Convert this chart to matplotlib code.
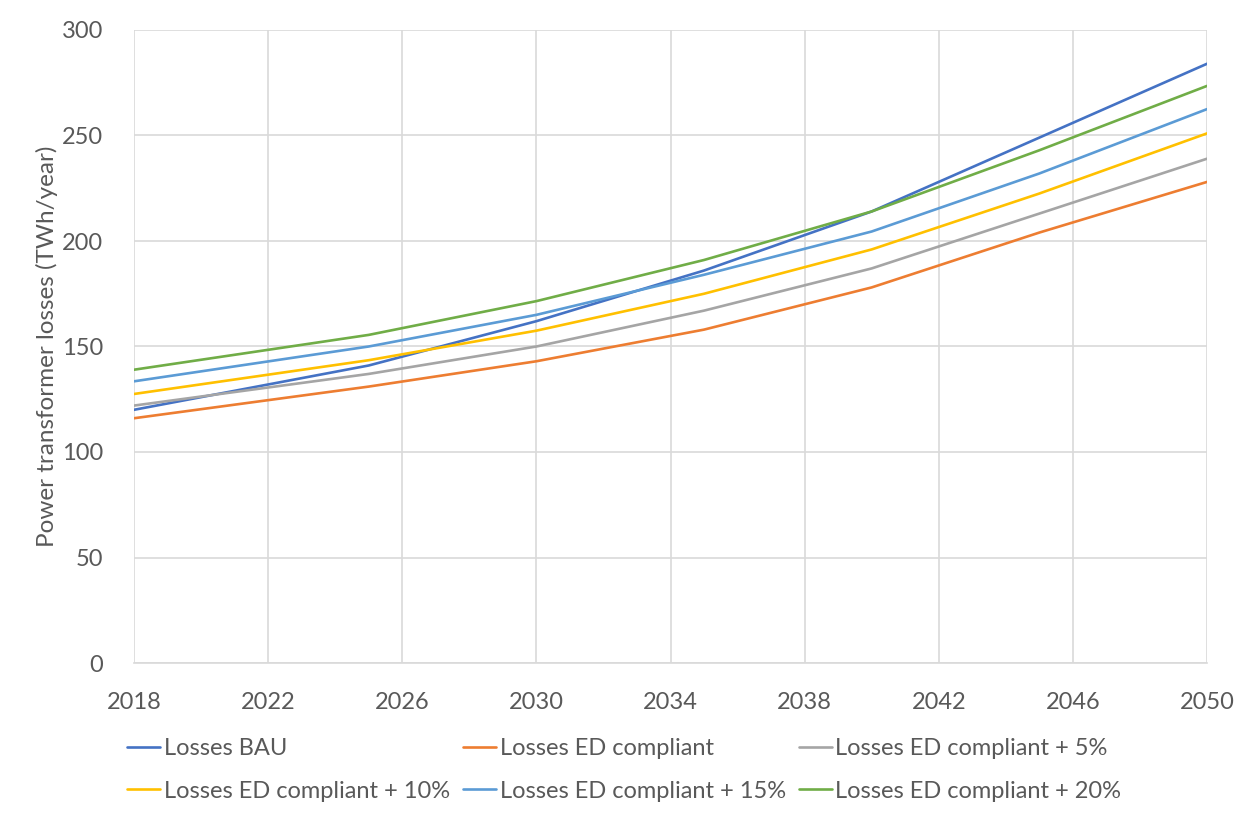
import matplotlib
matplotlib.use("Agg")
import matplotlib.pyplot as plt

years = [2018, 2025, 2030, 2035, 2040, 2045, 2050]
losses_bau = [120, 141, 162, 186, 214, 249, 284]
losses_ed = [116, 131, 143, 158, 178, 204, 228]
losses_ed5 = [122, 137, 150, 167, 187, 213, 239]
losses_ed10 = [127.5, 143.5, 157.5, 175, 196, 222.5, 251]
losses_ed15 = [133.5, 150, 165, 184, 204.5, 232, 262.5]
losses_ed20 = [139, 155.5, 171.5, 191, 214, 243, 273.5]

labels = ["Losses BAU", "Losses ED compliant", "Losses ED compliant + 5%",
          "Losses ED compliant + 10%", "Losses ED compliant + 15%", "Losses ED compliant + 20%"]
colors = ["#4472C4", "#ED7D31", "#A5A5A5", "#FFC000", "#5B9BD5", "#70AD47"]
series = [losses_bau, losses_ed, losses_ed5, losses_ed10, losses_ed15, losses_ed20]

xticks = [2018, 2022, 2026, 2030, 2034, 2038, 2042, 2046, 2050]
yticks = [0, 50, 100, 150, 200, 250, 300]

plt.rcParams['font.family'] = ['Lato', 'DejaVu Sans']
txt = "#595959"

fig = plt.figure(figsize=(12.52, 8.16), dpi=100)
ax = fig.add_axes([134/1252, 1-663/816, (1207-134)/1252, (663-30)/816])

handles = []
for s, lab, c in zip(series, labels, colors):
    h, = ax.plot(years, s, color=c, lw=1.9, label=lab, solid_capstyle='round')
    handles.append(h)

ax.set_xlim(2018, 2050)
ax.set_ylim(0, 300)
ax.set_xticks(xticks)
ax.set_yticks(yticks)
ax.grid(True, color="#d9d9d9", lw=1.2)
ax.set_axisbelow(True)
for sp in ["top", "right", "left"]:
    ax.spines[sp].set_visible(False)
ax.spines["bottom"].set_color("#d9d9d9")
ax.spines["bottom"].set_linewidth(1.2)
ax.tick_params(axis='both', length=0, labelsize=17, colors=txt)
ax.tick_params(axis='x', pad=21)
ax.tick_params(axis='y', pad=22)
ax.set_ylabel("Power transformer losses (TWh/year)", fontsize=17.5, color=txt, labelpad=3)

order = [0, 3, 1, 4, 2, 5]
fig.legend([handles[i] for i in order], [labels[i] for i in order],
           ncol=3, frameon=False, loc="upper left",
           bbox_to_anchor=(106/1252, 1-717/816), fontsize=17,
           handlelength=1.4, handletextpad=0.15, columnspacing=0.55,
           labelspacing=0.9, labelcolor=txt)

fig.savefig("out.png", dpi=100)
